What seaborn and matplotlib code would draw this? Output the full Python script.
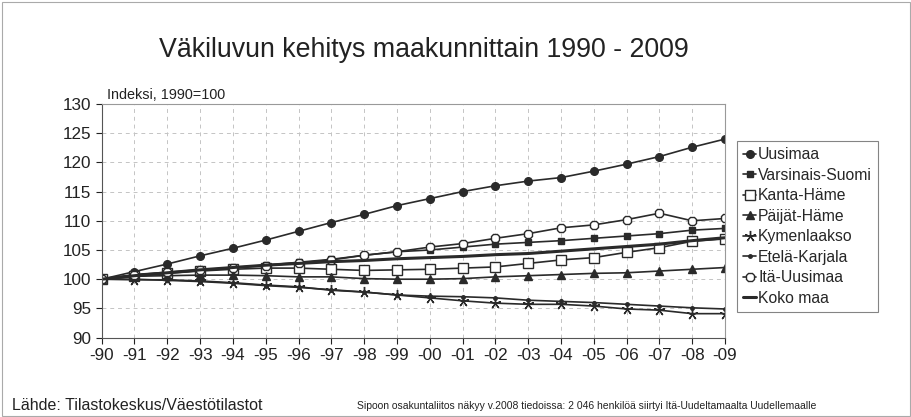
import pandas as pd
import seaborn as sns
import matplotlib.pyplot as plt
from matplotlib.patches import Rectangle

years = list(range(1990, 2010))
year_labels = ["-90", "-91", "-92", "-93", "-94", "-95", "-96", "-97", "-98", "-99",
               "-00", "-01", "-02", "-03", "-04", "-05", "-06", "-07", "-08", "-09"]

uusimaa = [100, 101.3, 102.6, 104.0, 105.3, 106.7, 108.2, 109.7, 111.1, 112.6,
           113.8, 115.0, 116.0, 116.8, 117.4, 118.5, 119.7, 121.0, 122.6, 124.0]
varsinais_suomi = [100, 100.7, 101.1, 101.5, 102.0, 102.4, 102.9, 103.4, 104.1, 104.7,
                   105.0, 105.5, 106.0, 106.3, 106.6, 107.0, 107.4, 107.8, 108.4, 108.7]
kanta_hame = [100, 100.5, 101.0, 101.4, 101.7, 101.9, 101.9, 101.7, 101.5, 101.6,
              101.7, 101.9, 102.1, 102.7, 103.3, 103.7, 104.6, 105.4, 106.5, 106.9]
paijat_hame = [100, 100.5, 100.6, 100.7, 100.7, 100.6, 100.4, 100.4, 100.1, 100.0,
               100.0, 100.1, 100.4, 100.6, 100.8, 101.0, 101.1, 101.4, 101.7, 102.0]
kymenlaakso = [100, 99.9, 99.9, 99.7, 99.4, 99.0, 98.7, 98.1, 97.8, 97.3,
               96.8, 96.3, 95.9, 95.7, 95.7, 95.4, 94.9, 94.7, 94.1, 94.1]
etela_karjala = [100, 100.0, 99.8, 99.6, 99.3, 98.9, 98.6, 98.2, 97.8, 97.3,
                 97.1, 97.0, 96.8, 96.4, 96.2, 96.0, 95.7, 95.4, 95.1, 94.9]
ita_uusimaa = [100, 100.8, 101.2, 101.6, 102.0, 102.3, 102.8, 103.3, 104.1, 104.7,
               105.5, 106.1, 107.0, 107.8, 108.8, 109.3, 110.2, 111.3, 110.0, 110.4]
koko_maa = [100, 100.6, 101.1, 101.6, 102.0, 102.4, 102.7, 103.0, 103.2, 103.5,
            103.7, 103.9, 104.2, 104.4, 104.8, 105.2, 105.6, 106.0, 106.6, 107.1]

series = {
    "Uusimaa": uusimaa,
    "Varsinais-Suomi": varsinais_suomi,
    "Kanta-Häme": kanta_hame,
    "Päijät-Häme": paijat_hame,
    "Kymenlaakso": kymenlaakso,
    "Etelä-Karjala": etela_karjala,
    "Itä-Uusimaa": ita_uusimaa,
    "Koko maa": koko_maa,
}

# marker, size, filled
styles = {
    "Uusimaa": ("o", 5.5, True),
    "Varsinais-Suomi": ("s", 5, True),
    "Kanta-Häme": ("s", 7.5, False),
    "Päijät-Häme": ("^", 5.5, True),
    "Kymenlaakso": ((5, 2, 0), 8, True),
    "Etelä-Karjala": (".", 5, True),
    "Itä-Uusimaa": ("8", 6.5, False),
    "Koko maa": (None, 0, True),
}

df = pd.DataFrame([(name, y, v) for name, vals in series.items() for y, v in zip(years, vals)],
                  columns=["alue", "vuosi", "indeksi"])

sns.set_style("white")
plt.rcParams["font.family"] = ["Liberation Sans", "DejaVu Sans"]

fig = plt.figure(figsize=(9.12, 4.17), dpi=100)
ax = fig.add_axes([0.1115, 0.1904, 0.6835, 0.5602])

line_col = "#2a2a2a"
for name in series:
    marker, ms, filled = styles[name]
    sub = df[df["alue"] == name]
    kw = dict(color=line_col, lw=1.2)
    if name == "Koko maa":
        kw["lw"] = 2.2
    else:
        kw.update(marker=marker, markersize=ms,
                  markerfacecolor=line_col if filled else "white",
                  markeredgecolor=line_col, markeredgewidth=1.0)
    sns.lineplot(data=sub, x="vuosi", y="indeksi", ax=ax, label=name, **kw)

ax.set_xlim(1990, 2009)
ax.set_ylim(90, 130)
ax.set_xticks(years)
ax.set_xticklabels(year_labels)
ax.set_yticks(range(90, 131, 5))
ax.set_xlabel("")
ax.set_ylabel("")
ax.tick_params(axis="both", labelsize=12.3, colors="#222", length=4, width=0.8, direction="out",
               bottom=True, left=True)
ax.grid(True, color="#c4c4c4", linestyle=(0, (4, 4)), lw=0.7)
for s in ["left", "bottom"]:
    ax.spines[s].set_color("#555")
for s in ["top", "right"]:
    ax.spines[s].set_color("#999")

leg = ax.legend(loc="upper left", bbox_to_anchor=(737 / 912, 1 - 141 / 417),
                bbox_transform=fig.transFigure, frameon=True, fancybox=False,
                fontsize=11.3, handlelength=0.8, handletextpad=0.15, labelspacing=0.35,
                borderpad=0.4, borderaxespad=0)
leg.get_frame().set_edgecolor("#666")
leg.get_frame().set_linewidth(0.8)

fig.text(0.465, 0.88, "Väkiluvun kehitys maakunnittain 1990 - 2009", ha="center", va="center",
         fontsize=19.3, color="#222")
fig.text(107 / 912, 1 - 95 / 417, "Indeksi, 1990=100", ha="left", va="center", fontsize=10.4,
         color="#222")
fig.text(12 / 912, 1 - 405 / 417, "Lähde: Tilastokeskus/Väestötilastot", ha="left", va="center",
         fontsize=11.5, color="#222")
fig.text(357 / 912, 1 - 406 / 417,
         "Sipoon osakuntaliitos näkyy v.2008 tiedoissa: 2 046 henkilöä siirtyi Itä-Uudeltamaalta Uudellemaalle",
         ha="left", va="center", fontsize=7.5, color="#222")

fig.patches.append(Rectangle((0.002, 0.002), 0.996, 0.993, transform=fig.transFigure,
                             fill=False, edgecolor="#aaa", lw=0.8))

fig.savefig("out.png", dpi=100)
